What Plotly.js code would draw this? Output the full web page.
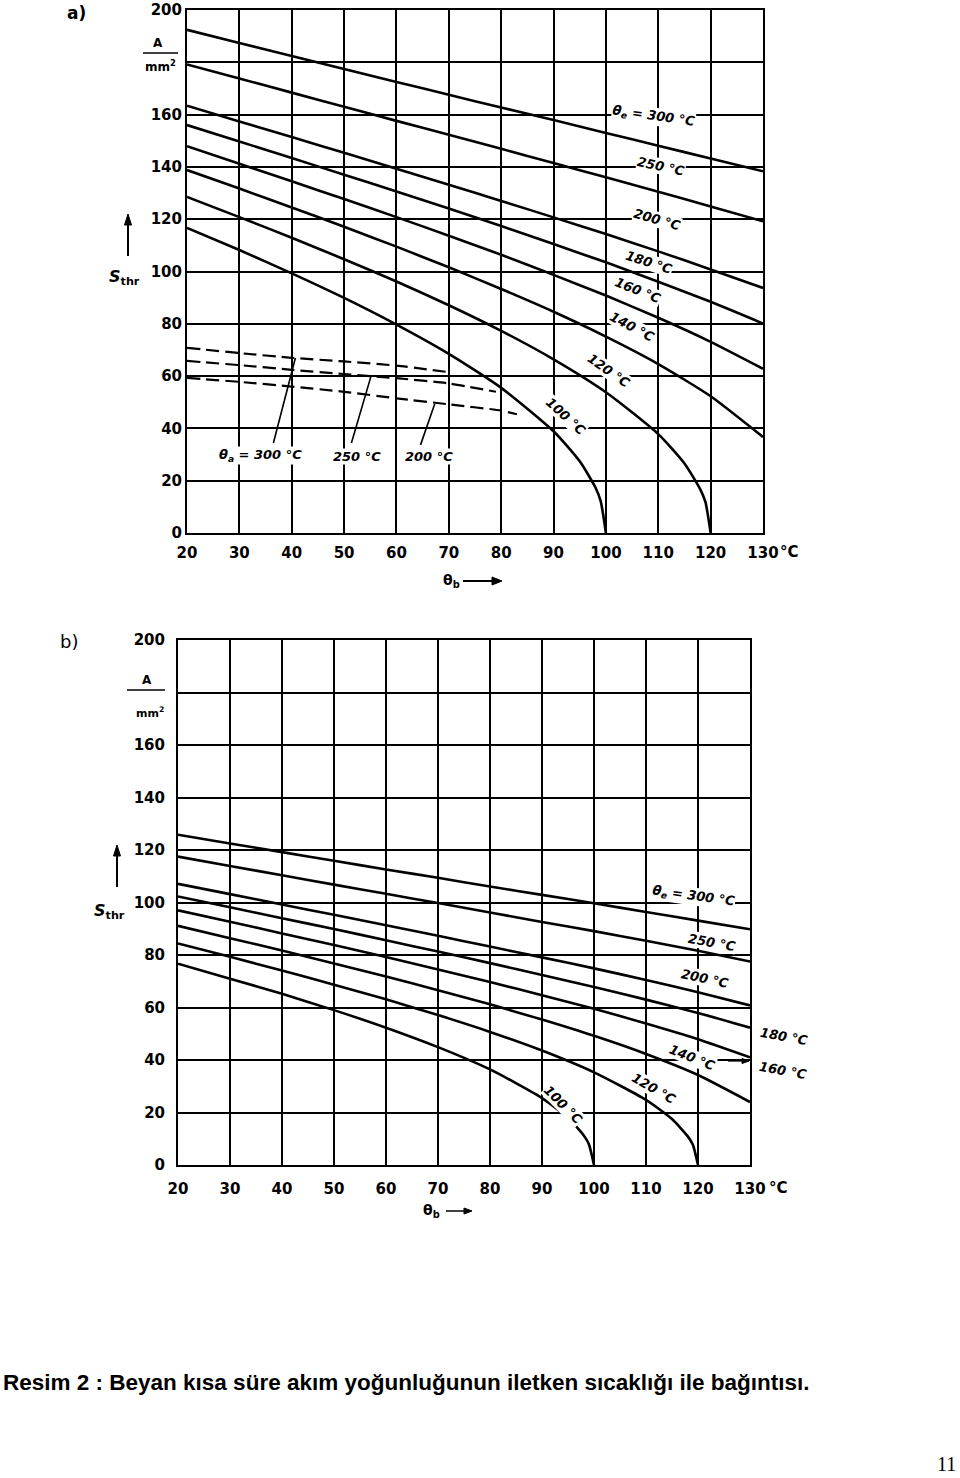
<!DOCTYPE html>
<html><head><meta charset="utf-8">
<script src="https://cdn.plot.ly/plotly-3.0.1.min.js"></script>
<style>html,body{margin:0;padding:0;background:#fff;}#chart{width:960px;height:1478px;}</style>
</head><body><div id="chart"></div>
<script>
// ---------- data ----------
const thetaB = [20,30,40,50,60,70,80,90,100,110,120,130];
const xTickText = ['20','30','40','50','60','70','80','90','100','110','120','130'];
const yTickVals = [0,20,40,60,80,100,120,140,160,200];
const yTickText = ['0','20','40','60','80','100','120','140','160','200'];

// chart a) – solid curves (theta_e)
const a300 = [192.4,187.4,182.4,177.4,172.5,167.6,162.7,157.9,153.0,148.1,143.2,138.3];
const a250 = [179.2,173.8,168.4,163.0,157.6,152.3,146.9,141.5,136.0,130.5,124.9,119.2];
const a200 = [163.4,157.4,151.4,145.4,139.3,133.2,127.0,120.7,114.3,107.7,100.8,93.7];
const a180 = [156.0,149.7,143.4,137.0,130.6,124.1,117.4,110.5,103.5,96.1,88.4,80.1];
const a160 = [147.9,141.2,134.5,127.7,120.8,113.7,106.4,98.7,90.8,82.3,73.1,62.8];
const a140 = [138.8,131.7,124.5,117.1,109.5,101.6,93.3,84.6,75.1,64.6,52.3,36.7];
const a120x = [20,30,40,50,60,70,80,90,100,110,115,118,119,120];
const a120 = [128.5,120.8,112.9,104.7,96.2,87.1,77.3,66.4,53.8,37.8,26.6,16.8,11.9,0];
const a100x = [20,30,40,50,60,70,80,90,95,98,99,100];
const a100 = [116.7,108.2,99.3,89.9,79.7,68.5,55.5,38.9,27.4,17.4,12.2,0];
// chart a) – dashed curves (theta_a)
const d300x = [20,30,40,50,60,70];
const d300 = [70.8,68.8,67.0,65.6,64.0,61.5];
const d250x = [20,30,40,50,60,70,79];
const d250 = [65.8,64.2,62.4,60.8,59.2,57.2,54.0];
const d200x = [20,30,40,50,60,70,80,83];
const d200 = [59.3,57.8,56.0,54.0,51.5,49.2,46.8,45.4];

// chart b)
const b300 = [125.8,122.5,119.2,115.9,112.6,109.4,106.1,102.9,99.7,96.4,93.1,89.8];
const b250 = [117.5,113.9,110.4,106.8,103.3,99.8,96.2,92.6,89.1,85.4,81.6,77.5];
const b200 = [107.1,103.2,99.2,95.3,91.3,87.3,83.2,79.1,74.9,70.5,65.8,60.8];
const b180 = [102.3,98.2,94.0,89.9,85.6,81.3,76.9,72.4,67.8,63.0,57.9,52.3];
const b160 = [97.0,92.7,88.2,83.8,79.2,74.5,69.7,64.7,59.5,53.9,47.9,41.0];
const b140 = [91.1,86.4,81.7,76.8,71.8,66.6,61.2,55.4,49.2,42.3,34.3,24.0];
const b120x = [20,30,40,50,60,70,80,90,100,110,115,118,119,120];
const b120 = [84.4,79.3,74.1,68.7,63.1,57.1,50.7,43.6,35.3,24.8,17.5,11.0,7.8,0];
const b100x = [20,30,40,50,60,70,80,90,95,98,99,100];
const b100 = [76.7,71.0,65.2,59.0,52.3,44.9,36.4,25.5,18.0,11.3,8.0,0];

const labelsA = ['θ<sub>e</sub> = 300 °C','250 °C','200 °C','180 °C','160 °C','140 °C','120 °C','100 °C'];
const labelsDashed = ['θ<sub>a</sub> = 300 °C','250 °C','200 °C'];
const labelsB = ['θ<sub>e</sub> = 300 °C','250 °C','200 °C','140 °C','120 °C','100 °C'];
const labelsBOut = ['180 °C','160 °C'];

// ---------- build ----------
const W = 960, H = 1478;
const px = v => v / W;
const py = v => 1 - v / H;
const FONT = 'DejaVu Sans, sans-serif';

function solid(x, y, xa, ya) {
  return {x, y, xaxis: xa, yaxis: ya, type: 'scatter', mode: 'lines',
    line: {color: '#000', width: 2.6, shape: 'spline', smoothing: 0.6}, hoverinfo: 'skip', showlegend: false};
}
function dashed(x, y) {
  return {x, y, xaxis: 'x', yaxis: 'y', type: 'scatter', mode: 'lines',
    line: {color: '#000', width: 2.2, dash: '13px,6px', shape: 'spline', smoothing: 0.6}, hoverinfo: 'skip', showlegend: false};
}

const traces = [
  solid(thetaB, a300, 'x', 'y'), solid(thetaB, a250, 'x', 'y'), solid(thetaB, a200, 'x', 'y'),
  solid(thetaB, a180, 'x', 'y'), solid(thetaB, a160, 'x', 'y'), solid(thetaB, a140, 'x', 'y'),
  solid(a120x, a120, 'x', 'y'), solid(a100x, a100, 'x', 'y'),
  dashed(d300x, d300), dashed(d250x, d250), dashed(d200x, d200),
  solid(thetaB, b300, 'x2', 'y2'), solid(thetaB, b250, 'x2', 'y2'), solid(thetaB, b200, 'x2', 'y2'),
  solid(thetaB, b180, 'x2', 'y2'), solid(thetaB, b160, 'x2', 'y2'), solid(thetaB, b140, 'x2', 'y2'),
  solid(b120x, b120, 'x2', 'y2'), solid(b100x, b100, 'x2', 'y2')
];

const TICKFONT = {family: FONT, size: 15, color: '#000', weight: 'bold'};
function xAxis(domain, anchor, standoff) {
  return {domain, anchor, range: [20, 130], tickvals: thetaB, ticktext: xTickText,
    showgrid: true, gridcolor: '#000', gridwidth: 2, showline: true, mirror: true,
    linecolor: '#000', linewidth: 2, zeroline: false, ticks: '', ticklabelstandoff: standoff,
    tickfont: TICKFONT, fixedrange: true};
}
function yAxis(domain, anchor, standoff) {
  return {domain, anchor, range: [0, 200], tickvals: yTickVals, ticktext: yTickText,
    showgrid: true, gridcolor: '#000', gridwidth: 2, showline: true, mirror: true,
    linecolor: '#000', linewidth: 2, zeroline: false, ticks: '', ticklabelstandoff: standoff,
    minor: {dtick: 20, showgrid: true, gridcolor: '#000', gridwidth: 2, ticks: ''},
    tickfont: TICKFONT, fixedrange: true};
}

const ann = [];
const shapes = [];
const LABFONT = {family: FONT, size: 13, color: '#000', weight: 'bold', style: 'italic'};
function lab(text, x, y, angle, xref, yref) {
  ann.push({text, x, y, xref, yref, xanchor: 'center', yanchor: 'middle', textangle: angle, showarrow: false,
    font: LABFONT, bgcolor: '#fff', borderpad: 0});
}
// chart a curve labels
const posA = [[109.1,159.1,8],[110.6,140.3,12],[109.7,119.7,16],[108.3,103.6,18],[106.2,92.9,22],[104.9,78.8,28],[100.5,62.3,35],[92.4,44.7,42]];
labelsA.forEach((t, i) => lab(t, posA[i][0], posA[i][1], posA[i][2], 'x', 'y'));
const posD = [[34.0,29.8],[52.4,29.1],[66.2,29.1]];
labelsDashed.forEach((t, i) => lab(t, posD[i][0], posD[i][1], 0, 'x', 'y'));
const ptrD = [[36.5,34.4,40.7,66.9],[51.4,34.4,55.1,59.7],[64.6,33.7,67.3,49.3]];
ptrD.forEach(p => shapes.push({type: 'line', xref: 'x', yref: 'y', x0: p[0], y0: p[1], x1: p[2], y1: p[3], line: {color: '#000', width: 1.6}}));
// chart b curve labels
const posB = [[119.2,102.1,8],[122.7,84.9,10],[121.3,71.2,12],[118.8,40.8,22],[111.5,29.3,30],[94.0,22.9,45]];
labelsB.forEach((t, i) => lab(t, posB[i][0], posB[i][1], posB[i][2], 'x2', 'y2'));
const posBOut = [[784,1036,10],[783,1070,10]];
labelsBOut.forEach((t, i) => ann.push({text: t, x: px(posBOut[i][0]), y: py(posBOut[i][1]), xref: 'paper', yref: 'paper',
  xanchor: 'center', yanchor: 'middle', textangle: posBOut[i][2], showarrow: false, font: LABFONT}));

function ptxt(text, x, y, size, opts) {
  ann.push(Object.assign({text, x: px(x), y: py(y), xref: 'paper', yref: 'paper', xanchor: 'center', yanchor: 'middle',
    showarrow: false, font: {family: FONT, size, color: '#000', weight: 'bold'}}, opts || {}));
}
function pline(x0, y0, x1, y1, w) {
  shapes.push({type: 'line', xref: 'paper', yref: 'paper', x0: px(x0), y0: py(y0), x1: px(x1), y1: py(y1), line: {color: '#000', width: w}});
}
function phead(pts) {
  shapes.push({type: 'path', xref: 'paper', yref: 'paper', fillcolor: '#000', line: {color: '#000', width: 1},
    path: 'M' + pts.map(p => px(p[0]) + ',' + py(p[1])).join(' L') + ' Z'});
}
// panel a decorations
ptxt('a)', 76, 13, 17);
ptxt('A', 158, 43, 12);
pline(143, 53, 178, 53, 1.5);
ptxt('mm<sup>2</sup>', 160, 66, 12);
ptxt('°C', 789, 552, 15);
ptxt('θ<sub>b</sub>', 451, 581, 14);
pline(463, 581, 494, 581, 2);
phead([[502,581],[492,577],[492,585]]);
ptxt('<i>S</i><sub>thr</sub>', 124, 277, 16);
pline(128, 224, 128, 256, 2);
phead([[128,214],[124.5,225],[131.5,225]]);
// panel b decorations
ptxt('b)', 69, 641, 18, {font: {family: FONT, size: 18, color: '#000'}});
ptxt('A', 147, 680, 12);
pline(127, 690, 165, 690, 1.5);
ptxt('mm<sup>2</sup>', 150, 712, 11);
ptxt('°C', 778, 1188, 15);
ptxt('θ<sub>b</sub>', 431, 1211, 14);
pline(446, 1211, 466, 1211, 1.5);
phead([[472,1211],[464,1208],[464,1214]]);
ptxt('<i>S</i><sub>thr</sub>', 109, 911, 16);
pline(117, 855, 117, 887, 2);
phead([[117,845],[113.5,856],[120.5,856]]);
// small pointer to 160 °C curve (panel b)
pline(728, 1061, 743, 1061, 1.3);
phead([[749,1061],[742,1058.5],[742,1063.5]]);
// caption and page number
ann.push({text: 'Resim 2 : Beyan kısa süre akım yoğunluğunun iletken sıcaklığı ile bağıntısı.', x: px(1), xanchor: 'left',
  y: py(1382), yanchor: 'middle', xref: 'paper', yref: 'paper', showarrow: false,
  font: {family: 'Liberation Sans, Arial, sans-serif', size: 22.5, color: '#000', weight: 'bold'}});
ann.push({text: '11', x: px(946), y: py(1464), xanchor: 'center', yanchor: 'middle', xref: 'paper', yref: 'paper', showarrow: false,
  font: {family: 'Liberation Serif, serif', size: 20, color: '#000'}});

const layout = {
  width: W, height: H, margin: {l: 0, r: 0, t: 0, b: 0},
  paper_bgcolor: '#fff', plot_bgcolor: '#fff', showlegend: false,
  xaxis: xAxis([px(187), px(763)], 'y', 5),
  yaxis: yAxis([py(533), py(10)], 'x', 0),
  xaxis2: xAxis([px(178), px(750)], 'y2', 9),
  yaxis2: yAxis([py(1165), py(640)], 'x2', 8),
  annotations: ann, shapes: shapes
};
Plotly.newPlot('chart', traces, layout, {staticPlot: true, displayModeBar: false});
</script></body></html>
